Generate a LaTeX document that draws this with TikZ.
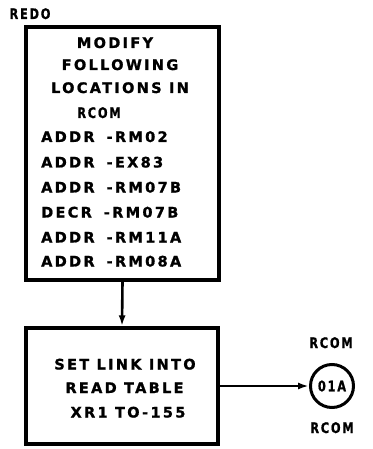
\documentclass[tikz,border=0pt]{standalone}
\usepackage{fontspec}
\usepackage{graphicx}
\usetikzlibrary{arrows.meta}
\newfontfamily\lblfont{DejaVu Sans}[UprightFont=* Bold, LetterSpace=16, FakeBold=1.2]
\tikzset{
  txt/.style={font=\lblfont\fontsize{14.5}{14.5}\selectfont, inner sep=0pt},
  boxstyle/.style={draw, line width=3.4pt, rectangle, inner sep=0pt},
  arr/.style={line width=2.6pt, -{Latex[length=11pt,width=7pt]}},
  conn/.style={draw, circle, line width=3pt, inner sep=0pt, minimum size=43pt},
}
\newcommand{\gap}{\hspace{12pt}}
\newcommand{\narrow}[1]{\scalebox{0.78}[1]{#1}}
\begin{document}
\begin{tikzpicture}[x=1pt,y=-1pt]
\useasboundingbox (0,0) rectangle (372,449);
% top box
\node[boxstyle, minimum width=193pt, minimum height=253pt] (redo) at (122.5,153.5) {};
\node[txt, anchor=base] (redolbl) at (30,19) {\narrow{REDO}};
\node[txt, anchor=base] (l1) at (115,48) {MODIFY};
\node[txt, anchor=base] (l2) at (120,70) {FOLLOWING};
\node[txt, anchor=base] (l3) at (120,93) {LOCATIONS IN};
\node[txt, anchor=base] (l4) at (99,118) {\narrow{RCOM}};
\node[txt, anchor=base west] (l5) at (41,142) {ADDR\gap-RM02};
\node[txt, anchor=base west] (l6) at (41,167.5) {ADDR\gap-EX83};
\node[txt, anchor=base west] (l7) at (41,192.5) {ADDR\gap-RM07B};
\node[txt, anchor=base west] (l8) at (41,217.5) {DECR\gap-RM07B};
\node[txt, anchor=base west] (l9) at (41,242.5) {ADDR\gap-RM11A};
\node[txt, anchor=base west] (l10) at (41,266.5) {ADDR\gap-RM08A};
% bottom box
\node[boxstyle, minimum width=192pt, minimum height=116pt] (setlink) at (122,386) {};
\node[txt, anchor=base] (m1) at (125,369.5) {SET LINK INTO};
\node[txt, anchor=base] (m2) at (124.5,393) {READ TABLE};
\node[txt, anchor=base] (m3) at (128,417.5) {XR1 TO-155};
% connector
\node[conn, txt] (c) at (332,386) {\narrow{01A}};
\node[txt, anchor=base] (ctop) at (331,348) {\narrow{RCOM}};
\node[txt, anchor=base] (cbot) at (332,433) {\narrow{RCOM}};
% arrows
\draw[arr] (redo.south) -- (setlink.north);
\draw[arr] (setlink.east) -- (c.west);
\end{tikzpicture}
\end{document}
